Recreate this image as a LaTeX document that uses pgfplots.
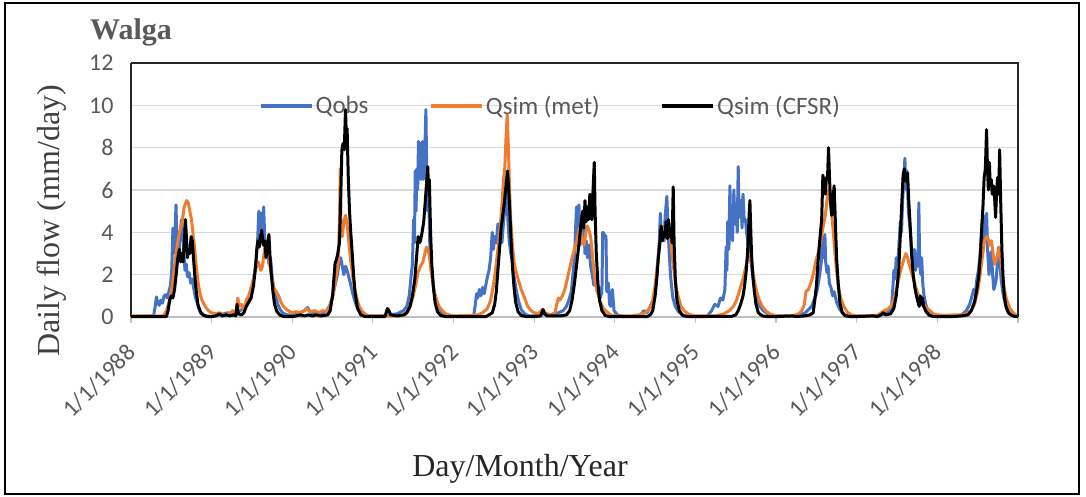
\documentclass[border=0pt]{standalone}
\usepackage{pgfplots}
\pgfplotsset{compat=1.18}
\usepackage{fontspec}
\setmainfont{Liberation Serif}
\newfontfamily\calibri{Carlito}
\definecolor{obsblue}{HTML}{4472C4}
\definecolor{metorange}{HTML}{ED7D31}
\definecolor{txtgray}{HTML}{595959}
\definecolor{gridgray}{HTML}{D9D9D9}
\definecolor{tickgray}{HTML}{BFBFBF}

\begin{document}
\begin{tikzpicture}[x=1bp,y=1bp]
\useasboundingbox (0,0) rectangle (1086,497);
\draw[line width=1.2bp] (5,3) rectangle (1079,494);

\begin{axis}[
  at={(131bp,180bp)}, anchor=south west,
  scale only axis, width=887bp, height=254bp,
  xmin=1988, xmax=1999, ymin=0, ymax=12,
  clip=false,
  axis x line*=bottom, axis y line*=left,
  x axis line style={-, draw=tickgray, line width=1.2bp},
  y axis line style={-, draw=black!85, line width=1.2bp},
  xtick={1988,1989,...,1999},
  xticklabels={1/1/1988,1/1/1989,1/1/1990,1/1/1991,1/1/1992,1/1/1993,1/1/1994,1/1/1995,1/1/1996,1/1/1997,1/1/1998,},
  ytick={0,2,...,12},
  xtick align=outside, major tick length=6bp,
  xtick style={draw=tickgray, line width=1.2bp},
  ytick style={draw=none},
  ymajorgrids, grid style={draw=gridgray, line width=1.3bp},
  /pgf/number format/assume math mode=true,
  tick label style={font=\calibri\fontsize{24bp}{28bp}\selectfont, text=txtgray},
  yticklabel style={anchor=east, xshift=-14bp},
  xticklabel style={rotate=45, anchor=east, inner sep=0pt, xshift=-17.5bp, yshift=-18.5bp},
  legend columns=3,
  legend style={draw=none, fill=none, inner sep=0pt, at={(0.1443,0.8307)}, anchor=west,
    font=\calibri\fontsize{25bp}{29bp}\selectfont, text=txtgray,
    /tikz/every even column/.append style={column sep=59bp}},
  legend image code/.code={\draw[#1, line width=3.5bp] (0bp,0bp) -- (51bp,0bp);},
  every axis plot/.append style={line width=3bp, line join=round, mark=none},
]

% observed discharge
\addplot[obsblue] coordinates {
(1988.00,0.03) (1988.28,0.05) (1988.30,0.5) (1988.315,0.95) (1988.33,0.7) (1988.35,0.55) (1988.37,0.8) (1988.39,0.65) (1988.41,1.0) (1988.43,1.05) (1988.45,0.9) (1988.47,1.2) (1988.49,1.5) (1988.505,2.2) (1988.52,4.2) (1988.53,3.0) (1988.545,3.8) (1988.558,5.3) (1988.57,3.4) (1988.59,2.8) (1988.61,3.9) (1988.625,4.6) (1988.64,4.1) (1988.655,3.0) (1988.67,2.2) (1988.685,2.5) (1988.70,1.9) (1988.72,2.1) (1988.74,1.6) (1988.76,1.8) (1988.78,1.3) (1988.80,0.9) (1988.82,0.7) (1988.84,0.4) (1988.87,0.15) (1988.92,0.05)
(1989.00,0.03) (1989.10,0.1) (1989.20,0.2) (1989.25,0.1) (1989.30,0.15) (1989.35,0.3) (1989.40,0.4) (1989.44,0.6) (1989.47,0.9) (1989.50,1.4) (1989.53,2.0) (1989.55,2.6) (1989.57,3.6) (1989.585,5.0) (1989.60,4.1) (1989.615,4.9) (1989.63,4.0) (1989.645,5.2) (1989.66,3.6) (1989.675,3.0) (1989.69,3.3) (1989.71,2.5) (1989.73,2.8) (1989.75,1.9) (1989.77,1.3) (1989.79,1.0) (1989.82,0.6) (1989.85,0.35) (1989.88,0.2) (1989.93,0.1)
(1990.00,0.1) (1990.05,0.15) (1990.10,0.2) (1990.15,0.3) (1990.19,0.45) (1990.22,0.25) (1990.28,0.15) (1990.33,0.2) (1990.38,0.15) (1990.43,0.3) (1990.47,0.6) (1990.50,1.0) (1990.53,1.5) (1990.56,2.0) (1990.58,2.6) (1990.60,2.8) (1990.62,2.4) (1990.64,2.0) (1990.66,2.4) (1990.68,2.2) (1990.70,1.9) (1990.72,1.6) (1990.75,1.1) (1990.78,0.7) (1990.81,0.4) (1990.85,0.2) (1990.90,0.08)
(1991.00,0.05) (1991.10,0.05) (1991.20,0.1) (1991.30,0.15) (1991.38,0.3) (1991.42,0.5) (1991.45,1.0) (1991.47,1.8) (1991.49,2.5) (1991.505,4.6) (1991.515,3.5) (1991.525,6.9) (1991.535,5.0) (1991.545,7.0) (1991.555,6.0) (1991.565,8.3) (1991.575,7.0) (1991.585,8.2) (1991.595,6.5) (1991.605,7.5) (1991.615,8.3) (1991.625,6.5) (1991.645,8.0) (1991.657,9.8) (1991.667,7.0) (1991.68,5.0) (1991.69,6.2) (1991.705,3.5) (1991.72,2.5) (1991.74,1.8) (1991.76,1.2) (1991.79,0.7) (1991.82,0.4) (1991.86,0.2) (1991.92,0.08)
(1992.00,0.03) (1992.15,0.03) (1992.25,0.05) (1992.27,0.6) (1992.285,1.1) (1992.30,0.9) (1992.32,1.3) (1992.34,1.0) (1992.36,1.4) (1992.38,1.1) (1992.40,1.5) (1992.42,1.9) (1992.44,2.2) (1992.46,2.8) (1992.48,4.0) (1992.495,3.2) (1992.51,3.8) (1992.53,3.5) (1992.55,4.4) (1992.565,3.6) (1992.58,4.2) (1992.60,3.5) (1992.62,4.5) (1992.64,5.2) (1992.66,6.0) (1992.675,4.5) (1992.69,3.6) (1992.71,3.0) (1992.73,2.6) (1992.75,1.9) (1992.78,1.2) (1992.81,0.7) (1992.84,0.35) (1992.88,0.15) (1992.94,0.05)
(1993.00,0.05) (1993.10,0.15) (1993.20,0.1) (1993.30,0.2) (1993.36,0.3) (1993.40,0.5) (1993.43,0.8) (1993.46,1.2) (1993.48,2.0) (1993.50,2.8) (1993.515,4.3) (1993.525,5.2) (1993.54,3.8) (1993.555,5.3) (1993.57,3.4) (1993.585,4.4) (1993.60,3.7) (1993.615,4.5) (1993.63,3.0) (1993.645,3.6) (1993.66,2.8) (1993.68,3.4) (1993.70,2.4) (1993.72,2.0) (1993.74,1.5) (1993.76,1.8) (1993.78,1.2) (1993.80,1.4) (1993.82,0.9) (1993.84,1.2) (1993.85,4.0) (1993.87,3.9) (1993.89,3.8) (1993.90,1.2) (1993.92,1.6) (1993.935,0.6) (1993.95,0.5) (1993.97,1.3) (1993.99,0.3)
(1994.03,0.1) (1994.10,0.03) (1994.25,0.03) (1994.32,0.1) (1994.36,0.3) (1994.40,0.2) (1994.44,0.5) (1994.48,0.8) (1994.51,1.5) (1994.53,2.5) (1994.55,3.5) (1994.565,4.9) (1994.58,3.6) (1994.595,4.2) (1994.61,3.6) (1994.625,4.8) (1994.645,5.7) (1994.66,4.2) (1994.675,3.0) (1994.69,2.0) (1994.705,1.4) (1994.72,0.9) (1994.75,0.5) (1994.79,0.25) (1994.84,0.1) (1994.90,0.03)
(1995.00,0.03) (1995.15,0.05) (1995.20,0.3) (1995.24,0.6) (1995.28,0.5) (1995.31,0.9) (1995.34,0.8) (1995.365,1.3) (1995.38,3.3) (1995.39,2.2) (1995.40,4.5) (1995.415,3.2) (1995.427,6.2) (1995.438,3.8) (1995.448,4.3) (1995.46,3.6) (1995.476,6.0) (1995.49,4.4) (1995.505,5.2) (1995.518,4.0) (1995.530,7.1) (1995.54,5.0) (1995.551,4.7) (1995.565,5.5) (1995.578,4.2) (1995.59,5.8) (1995.605,4.5) (1995.62,4.6) (1995.634,4.0) (1995.655,3.4) (1995.675,3.0) (1995.695,2.4) (1995.716,1.8) (1995.74,1.2) (1995.757,0.9) (1995.79,0.55) (1995.84,0.3) (1995.92,0.1)
(1996.00,0.05) (1996.20,0.05) (1996.30,0.1) (1996.36,0.2) (1996.40,0.35) (1996.44,0.5) (1996.47,0.8) (1996.50,1.1) (1996.52,1.5) (1996.54,2.0) (1996.56,2.6) (1996.575,3.8) (1996.59,2.8) (1996.605,3.9) (1996.615,2.6) (1996.63,2.1) (1996.645,2.4) (1996.66,1.6) (1996.68,1.4) (1996.70,1.0) (1996.72,1.2) (1996.75,0.7) (1996.79,0.35) (1996.85,0.1) (1996.92,0.05)
(1997.00,0.03) (1997.15,0.05) (1997.30,0.1) (1997.38,0.2) (1997.43,0.4) (1997.45,1.5) (1997.46,2.2) (1997.475,1.8) (1997.49,2.8) (1997.51,2.6) (1997.525,3.5) (1997.54,4.5) (1997.555,4.0) (1997.57,5.6) (1997.585,6.5) (1997.597,7.5) (1997.61,6.0) (1997.625,6.9) (1997.64,5.0) (1997.655,4.4) (1997.67,3.8) (1997.685,2.8) (1997.70,2.5) (1997.715,3.2) (1997.73,2.2) (1997.745,3.0) (1997.76,2.4) (1997.77,5.4) (1997.78,2.6) (1997.795,2.0) (1997.805,2.8) (1997.82,1.5) (1997.835,1.0) (1997.855,0.6) (1997.88,0.35) (1997.92,0.15) (1997.96,0.05)
(1998.00,0.03) (1998.20,0.05) (1998.30,0.1) (1998.36,0.3) (1998.40,0.6) (1998.43,1.0) (1998.45,1.3) (1998.47,1.1) (1998.49,1.8) (1998.51,2.2) (1998.53,3.0) (1998.55,4.2) (1998.565,4.8) (1998.58,3.6) (1998.595,4.5) (1998.61,4.9) (1998.625,3.0) (1998.64,2.0) (1998.655,2.8) (1998.67,3.1) (1998.685,2.0) (1998.70,1.3) (1998.715,1.5) (1998.73,1.8) (1998.745,2.6) (1998.76,3.3) (1998.775,2.6) (1998.79,1.8) (1998.81,1.2) (1998.83,0.8) (1998.86,0.4) (1998.90,0.15) (1998.95,0.05) (1999.00,0.02)
};
\addlegendentry{Qobs}

% simulated discharge, station meteorology
\addplot[metorange] coordinates {
(1988.00,0.05) (1988.40,0.05) (1988.44,0.3) (1988.48,0.8) (1988.51,1.4) (1988.54,2.4) (1988.57,3.3) (1988.60,4.0) (1988.63,4.4) (1988.66,5.2) (1988.69,5.5) (1988.71,5.4) (1988.73,5.0) (1988.75,4.6) (1988.77,3.9) (1988.79,3.2) (1988.81,2.4) (1988.83,1.7) (1988.85,1.2) (1988.88,0.8) (1988.92,0.5) (1988.96,0.3)
(1989.00,0.2) (1989.05,0.15) (1989.10,0.2) (1989.15,0.1) (1989.22,0.15) (1989.26,0.3) (1989.28,0.1) (1989.31,0.4) (1989.325,0.9) (1989.34,0.5) (1989.37,0.6) (1989.40,0.3) (1989.43,0.8) (1989.46,1.0) (1989.49,1.4) (1989.52,1.8) (1989.55,2.3) (1989.58,2.6) (1989.61,2.2) (1989.63,2.4) (1989.65,3.0) (1989.67,3.6) (1989.69,3.4) (1989.71,2.8) (1989.73,2.2) (1989.75,1.8) (1989.77,1.4) (1989.80,1.2) (1989.83,1.0) (1989.86,0.7) (1989.89,0.5) (1989.93,0.35) (1989.97,0.25)
(1990.00,0.2) (1990.05,0.25) (1990.10,0.2) (1990.15,0.3) (1990.18,0.4) (1990.22,0.25) (1990.28,0.3) (1990.33,0.2) (1990.38,0.3) (1990.42,0.25) (1990.45,0.4) (1990.48,0.7) (1990.51,1.1) (1990.54,1.8) (1990.57,2.6) (1990.585,4.5) (1990.595,7.0) (1990.605,4.2) (1990.62,3.8) (1990.64,4.5) (1990.66,4.8) (1990.675,4.5) (1990.69,4.0) (1990.71,3.2) (1990.73,2.5) (1990.75,1.9) (1990.77,1.4) (1990.80,0.9) (1990.83,0.5) (1990.87,0.25) (1990.92,0.1) (1990.97,0.05)
(1991.00,0.05) (1991.30,0.05) (1991.40,0.1) (1991.44,0.3) (1991.47,0.6) (1991.50,1.0) (1991.53,1.5) (1991.56,2.1) (1991.59,2.4) (1991.62,2.6) (1991.65,3.1) (1991.665,3.3) (1991.68,3.2) (1991.70,2.9) (1991.72,2.2) (1991.74,1.7) (1991.76,1.2) (1991.79,0.8) (1991.82,0.5) (1991.86,0.3) (1991.90,0.15) (1991.95,0.1)
(1992.00,0.05) (1992.20,0.08) (1992.30,0.1) (1992.36,0.2) (1992.42,0.4) (1992.46,0.8) (1992.49,1.4) (1992.52,2.2) (1992.55,3.2) (1992.58,4.3) (1992.60,5.3) (1992.62,6.5) (1992.635,7.0) (1992.65,8.4) (1992.665,9.55) (1992.68,8.0) (1992.695,6.0) (1992.71,4.5) (1992.73,3.4) (1992.75,2.6) (1992.77,2.2) (1992.80,1.8) (1992.84,1.3) (1992.88,0.9) (1992.92,0.5) (1992.96,0.3)
(1993.00,0.2) (1993.05,0.15) (1993.10,0.35) (1993.13,0.2) (1993.20,0.1) (1993.26,0.2) (1993.28,0.6) (1993.30,0.9) (1993.32,0.8) (1993.35,1.0) (1993.38,1.3) (1993.41,1.8) (1993.44,2.3) (1993.47,2.8) (1993.50,3.2) (1993.53,3.6) (1993.56,4.2) (1993.58,4.0) (1993.60,3.5) (1993.62,3.4) (1993.64,4.0) (1993.66,4.3) (1993.68,4.1) (1993.70,3.8) (1993.72,3.0) (1993.74,2.2) (1993.76,1.6) (1993.79,1.1) (1993.82,0.7) (1993.86,0.4) (1993.90,0.25) (1993.95,0.1)
(1994.00,0.05) (1994.20,0.05) (1994.30,0.1) (1994.38,0.2) (1994.43,0.4) (1994.47,0.8) (1994.50,1.5) (1994.53,2.5) (1994.56,3.5) (1994.59,4.0) (1994.62,4.2) (1994.65,4.5) (1994.68,4.0) (1994.70,3.3) (1994.72,2.6) (1994.74,2.0) (1994.76,1.4) (1994.79,0.9) (1994.82,0.5) (1994.86,0.3) (1994.91,0.15) (1994.96,0.08)
(1995.00,0.05) (1995.25,0.05) (1995.35,0.15) (1995.42,0.3) (1995.47,0.5) (1995.51,0.8) (1995.55,1.3) (1995.59,1.8) (1995.62,2.3) (1995.65,2.8) (1995.67,3.0) (1995.69,2.7) (1995.71,2.2) (1995.73,1.7) (1995.76,1.2) (1995.79,0.8) (1995.83,0.5) (1995.87,0.3) (1995.92,0.15) (1995.97,0.08)
(1996.00,0.05) (1996.20,0.05) (1996.28,0.15) (1996.32,0.3) (1996.35,0.6) (1996.37,1.2) (1996.40,1.3) (1996.43,1.6) (1996.46,2.0) (1996.49,2.6) (1996.52,3.0) (1996.55,3.5) (1996.58,4.2) (1996.61,4.8) (1996.63,5.5) (1996.65,6.0) (1996.67,5.6) (1996.69,4.8) (1996.71,4.0) (1996.73,3.0) (1996.75,2.2) (1996.77,1.5) (1996.80,0.9) (1996.84,0.5) (1996.88,0.25) (1996.93,0.1)
(1997.00,0.05) (1997.25,0.05) (1997.30,0.2) (1997.34,0.3) (1997.38,0.35) (1997.42,0.5) (1997.46,0.8) (1997.50,1.4) (1997.53,2.0) (1997.56,2.4) (1997.59,2.8) (1997.61,3.0) (1997.63,2.8) (1997.65,2.5) (1997.68,2.1) (1997.71,1.7) (1997.74,1.3) (1997.77,1.0) (1997.80,0.8) (1997.83,0.6) (1997.87,0.4) (1997.91,0.3) (1997.95,0.15)
(1998.00,0.1) (1998.10,0.08) (1998.20,0.1) (1998.30,0.1) (1998.36,0.15) (1998.42,0.3) (1998.46,0.6) (1998.50,1.2) (1998.53,2.0) (1998.56,2.9) (1998.585,3.6) (1998.61,3.8) (1998.63,3.7) (1998.65,3.4) (1998.67,3.6) (1998.69,3.0) (1998.71,2.5) (1998.73,2.7) (1998.75,3.0) (1998.77,3.3) (1998.79,2.6) (1998.81,1.9) (1998.83,1.3) (1998.86,0.8) (1998.90,0.4) (1998.94,0.2) (1998.98,0.08) (1999.00,0.05)
};
\addlegendentry{Qsim (met)}

% simulated discharge, CFSR forcing
\addplot[black] coordinates {
(1988.00,0.02) (1988.44,0.02) (1988.46,0.3) (1988.48,0.8) (1988.50,1.0) (1988.52,0.9) (1988.54,1.3) (1988.56,2.0) (1988.58,2.8) (1988.60,3.2) (1988.615,2.6) (1988.63,3.0) (1988.645,2.6) (1988.66,3.4) (1988.675,4.6) (1988.69,3.6) (1988.70,2.8) (1988.715,3.2) (1988.73,3.0) (1988.745,3.8) (1988.76,3.6) (1988.775,2.8) (1988.79,2.0) (1988.81,1.2) (1988.83,0.6) (1988.86,0.25) (1988.90,0.08) (1988.95,0.02)
(1989.00,0.02) (1989.05,0.05) (1989.10,0.15) (1989.13,0.05) (1989.18,0.1) (1989.22,0.05) (1989.27,0.1) (1989.30,0.05) (1989.315,0.6) (1989.33,0.15) (1989.37,0.1) (1989.40,0.2) (1989.43,0.5) (1989.46,0.7) (1989.49,0.9) (1989.52,1.5) (1989.545,2.4) (1989.56,3.2) (1989.575,3.6) (1989.59,3.3) (1989.605,3.8) (1989.62,4.1) (1989.64,3.4) (1989.66,3.6) (1989.675,2.8) (1989.69,3.3) (1989.71,3.9) (1989.725,2.8) (1989.74,2.0) (1989.76,1.2) (1989.78,0.6) (1989.81,0.25) (1989.85,0.08) (1989.90,0.02)
(1990.00,0.02) (1990.05,0.05) (1990.10,0.1) (1990.15,0.05) (1990.20,0.1) (1990.25,0.05) (1990.30,0.1) (1990.35,0.05) (1990.40,0.08) (1990.44,0.1) (1990.47,0.3) (1990.50,1.0) (1990.53,2.5) (1990.56,2.9) (1990.585,3.5) (1990.60,5.5) (1990.615,7.9) (1990.63,8.2) (1990.645,7.9) (1990.66,9.8) (1990.67,8.6) (1990.68,8.9) (1990.695,6.5) (1990.71,5.0) (1990.725,4.0) (1990.74,3.2) (1990.76,2.0) (1990.78,1.1) (1990.81,0.4) (1990.85,0.1) (1990.90,0.02)
(1991.00,0.02) (1991.15,0.02) (1991.18,0.4) (1991.20,0.3) (1991.22,0.1) (1991.30,0.05) (1991.38,0.1) (1991.42,0.2) (1991.46,0.5) (1991.49,1.0) (1991.52,1.8) (1991.545,3.0) (1991.56,3.8) (1991.575,3.5) (1991.59,3.6) (1991.61,4.0) (1991.63,4.5) (1991.65,5.5) (1991.665,6.3) (1991.68,7.1) (1991.69,6.0) (1991.70,6.5) (1991.715,4.0) (1991.73,2.5) (1991.75,1.4) (1991.77,0.7) (1991.80,0.25) (1991.84,0.07) (1991.90,0.02)
(1992.00,0.02) (1992.40,0.02) (1992.44,0.1) (1992.48,0.2) (1992.51,0.6) (1992.53,1.2) (1992.55,2.2) (1992.57,3.2) (1992.59,4.2) (1992.61,4.8) (1992.63,5.4) (1992.65,6.2) (1992.67,6.9) (1992.685,6.0) (1992.70,4.8) (1992.715,3.5) (1992.73,2.4) (1992.75,1.4) (1992.77,0.7) (1992.80,0.25) (1992.84,0.07) (1992.90,0.02)
(1993.00,0.02) (1993.08,0.05) (1993.11,0.35) (1993.13,0.15) (1993.16,0.05) (1993.25,0.05) (1993.32,0.05) (1993.40,0.1) (1993.44,0.3) (1993.47,0.8) (1993.50,1.6) (1993.53,2.6) (1993.56,3.6) (1993.58,4.4) (1993.60,5.0) (1993.615,4.2) (1993.63,5.5) (1993.645,4.5) (1993.66,5.2) (1993.675,4.6) (1993.69,5.8) (1993.70,5.0) (1993.715,4.6) (1993.73,6.0) (1993.745,7.3) (1993.755,5.0) (1993.77,3.0) (1993.79,1.6) (1993.81,0.8) (1993.84,0.3) (1993.88,0.07) (1993.93,0.02)
(1994.00,0.02) (1994.40,0.02) (1994.44,0.1) (1994.47,0.3) (1994.50,1.0) (1994.52,1.8) (1994.54,2.8) (1994.56,3.6) (1994.575,4.3) (1994.59,3.6) (1994.605,4.0) (1994.62,3.8) (1994.635,4.5) (1994.65,3.7) (1994.665,4.6) (1994.68,3.8) (1994.695,4.2) (1994.71,3.5) (1994.724,6.15) (1994.735,3.5) (1994.75,1.8) (1994.77,0.8) (1994.80,0.3) (1994.84,0.07) (1994.90,0.02)
(1995.00,0.02) (1995.45,0.03) (1995.50,0.1) (1995.53,0.3) (1995.56,0.6) (1995.59,1.0) (1995.61,1.5) (1995.63,2.2) (1995.645,3.0) (1995.655,3.8) (1995.665,4.8) (1995.675,5.5) (1995.685,4.2) (1995.695,3.0) (1995.71,2.0) (1995.73,1.2) (1995.75,0.6) (1995.78,0.2) (1995.83,0.05) (1995.90,0.02)
(1996.00,0.02) (1996.20,0.05) (1996.25,0.02) (1996.35,0.05) (1996.42,0.1) (1996.46,0.2) (1996.48,0.8) (1996.50,1.5) (1996.52,2.6) (1996.545,3.8) (1996.565,4.6) (1996.58,6.7) (1996.595,6.3) (1996.61,5.8) (1996.625,6.6) (1996.637,6.5) (1996.65,8.0) (1996.662,6.6) (1996.675,5.4) (1996.69,4.8) (1996.705,5.6) (1996.72,6.2) (1996.735,4.5) (1996.75,2.8) (1996.77,1.6) (1996.79,0.7) (1996.82,0.2) (1996.86,0.05) (1996.92,0.02)
(1997.00,0.02) (1997.20,0.05) (1997.26,0.02) (1997.30,0.1) (1997.33,0.2) (1997.36,0.1) (1997.42,0.15) (1997.46,0.4) (1997.49,1.0) (1997.52,2.2) (1997.54,3.8) (1997.56,5.5) (1997.575,6.7) (1997.59,7.0) (1997.60,6.6) (1997.615,6.4) (1997.63,6.8) (1997.645,5.5) (1997.66,4.5) (1997.68,3.0) (1997.70,2.0) (1997.72,1.4) (1997.74,1.0) (1997.76,0.7) (1997.775,0.5) (1997.79,1.0) (1997.80,0.6) (1997.815,0.9) (1997.83,0.5) (1997.86,0.25) (1997.90,0.08) (1997.95,0.02)
(1998.00,0.02) (1998.20,0.02) (1998.30,0.05) (1998.38,0.1) (1998.42,0.3) (1998.46,0.7) (1998.49,1.3) (1998.515,2.0) (1998.535,3.0) (1998.55,4.2) (1998.565,5.2) (1998.58,6.6) (1998.595,7.0) (1998.61,8.85) (1998.62,7.2) (1998.632,6.0) (1998.645,7.3) (1998.655,6.2) (1998.668,6.5) (1998.68,5.8) (1998.695,6.2) (1998.71,5.6) (1998.722,4.7) (1998.735,6.0) (1998.748,6.6) (1998.76,5.8) (1998.772,7.9) (1998.785,5.5) (1998.80,3.2) (1998.815,1.8) (1998.83,1.0) (1998.85,0.5) (1998.88,0.2) (1998.92,0.08) (1998.96,0.03) (1999.00,0.02)
};
\addlegendentry{Qsim (CFSR)}

\draw[draw=black!85, line width=1.2bp] (rel axis cs:0,1) -- (rel axis cs:1,1) -- (rel axis cs:1,0);
\end{axis}

\node[anchor=base west, inner sep=0pt, text=txtgray, font=\fontsize{30bp}{34bp}\selectfont\bfseries] at (90,457.7) {Walga};
\node[rotate=90, inner sep=0pt, text=black!75, font=\fontsize{32bp}{36bp}\selectfont] at (52,276) {Daily flow (mm/day)};
\node[anchor=base, inner sep=0pt, text=black!85, font=\fontsize{32bp}{36bp}\selectfont] at (520,20) {Day/Month/Year};
\end{tikzpicture}
\end{document}
